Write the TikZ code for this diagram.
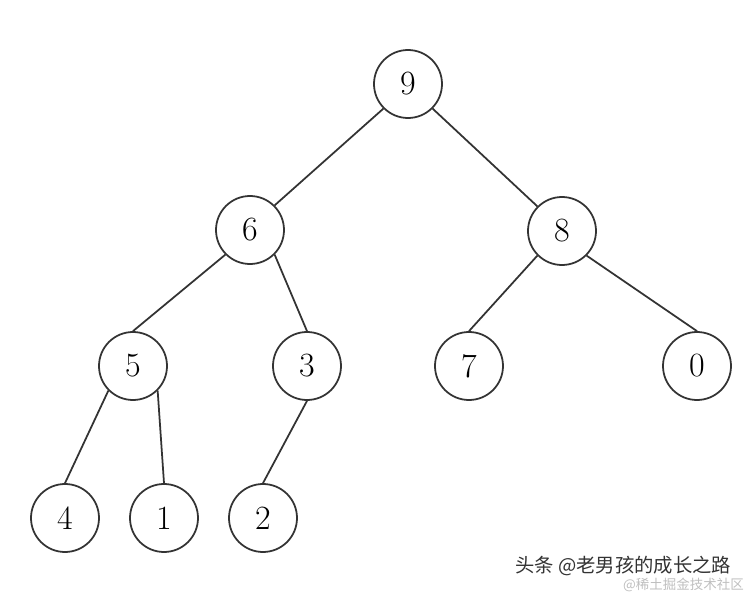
\documentclass[tikz,border=0pt]{standalone}
\usepackage{fontspec}
\usepackage{tikz}
\newfontfamily\cjkfont{Noto Sans CJK SC}
\tikzset{
	vertex/.style = {circle, draw=black!80, line width = 1.5pt, minimum size = 2.04cm, inner sep = 0pt, font = \fontsize{29}{32}\selectfont},
	link/.style = {draw=black!80, line width = 1.5pt}
}

\begin{document}
\begin{tikzpicture}[x=0.03cm, y=-0.03cm]
	\useasboundingbox (0,0) rectangle (747,593);
	\node[vertex] (n9) at (408,84) {9};
	\node[vertex] (n6) at (250,230) {6};
	\node[vertex] (n8) at (562,231) {8};
	\node[vertex] (n5) at (133,366) {5};
	\node[vertex] (n3) at (307,366) {3};
	\node[vertex] (n7) at (469,366) {7};
	\node[vertex] (n0) at (697,366) {0};
	\node[vertex] (n4) at (65,518) {4};
	\node[vertex] (n1) at (164,518) {1};
	\node[vertex] (n2) at (263,518) {2};
	\draw[link] (n9.south west)--(n6.north east);
	\draw[link] (n9.south east)--(n8.north west);
	\draw[link] (n6.south west)--(n5.north);
	\draw[link] (n6.south east)--(n3.north);
	\draw[link] (n8.south west)--(n7.north);
	\draw[link] (n8.south east)--(n0.north);
	\draw[link] (n5.south west)--(n4.north);
	\draw[link] (n5.south east)--(n1.north);
	\draw[link] (n3.south)--(n2.north);
	% watermark
	\node[anchor=east, text=black!25, inner sep=0pt, font=\cjkfont\fontsize{11.5}{13}\selectfont] (wm2) at (744,585) {@稀土掘金技术社区};
	\node[anchor=west, text=black!80, inner sep=0pt, font=\cjkfont\fontsize{16.5}{19}\selectfont] (wm1) at (515,566) {头条 @老男孩的成长之路};
\end{tikzpicture}
\end{document}
